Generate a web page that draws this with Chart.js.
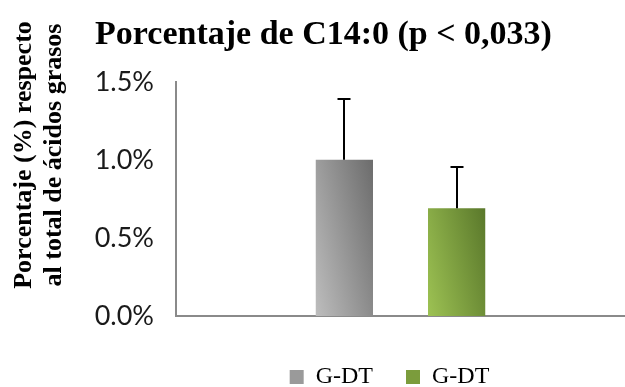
<!DOCTYPE html>
<html lang="es">
  <head>
    <meta charset="UTF-8" />
    <title>Porcentaje de C14:0</title>
    <script src="https://cdn.jsdelivr.net/npm/chart.js"></script>
    <style>
      html, body { margin: 0; padding: 0; background: #fff; }
      #wrap { width: 625px; height: 387px; }
    </style>
  </head>
  <body>
    <div id="wrap"><canvas id="c14Chart"></canvas></div>

    <script>
      // slots on the x axis (bars sit in the two middle ones)
      const slots = ["", "", "", ""];
      const seriesLabels = ["G-DT", "G-DT"];
      const seriesSlot = [1, 2];
      const seriesValues = [1.0, 0.69];   // %
      const seriesErrors = [0.39, 0.265]; // % (upper error only)
      const yTicks = [0, 0.5, 1.0, 1.5];

      const gradStops = [
        ["#bdbdbd", "#6c6c6c"], // gray: light bottom-left -> dark top-right
        ["#9dc253", "#5a782b"], // green
      ];
      const legendFill = ["#9a9a9a", "#7b9c3c"];

      const serif = "'Liberation Serif', 'DejaVu Serif', serif";
      const barPct = 0.51;

      function barGradient(ctx) {
        const chart = ctx.chart;
        const ds = ctx.datasetIndex;
        if (!chart.chartArea || ctx.type !== "data") return legendFill[ds];
        const xs = chart.scales.x;
        const w = (xs.width / slots.length) * barPct;
        const left = xs.getPixelForValue(ctx.dataIndex) - w / 2;
        const base = chart.scales.y.getPixelForValue(0);
        const h = base - chart.scales.y.getPixelForValue(seriesValues[ds]);
        // mostly left->right shading with a little bottom->top
        const ux = 0.975, uy = -0.22;
        const L = w * ux + h * -uy;
        const g = chart.ctx.createLinearGradient(left, base, left + L * ux, base + L * uy);
        g.addColorStop(0, gradStops[ds][0]);
        g.addColorStop(1, gradStops[ds][1]);
        return g;
      }

      // rotated two-line y title, drawn left of the tick labels
      const yTitlePlugin = {
        id: "yTitle",
        beforeDraw(chart) {
          // nudge the legend a little left, like the original
          chart.legend.left -= 11;
          chart.legend.right -= 11;
        },
        afterDraw(chart) {
          chart.legend.left += 11;
          chart.legend.right += 11;
          const c = chart.ctx;
          c.save();
          c.font = "bold 26px " + serif;
          c.fillStyle = "#000";
          c.textAlign = "center";
          c.textBaseline = "middle";
          c.translate(0, 155);
          c.rotate(-Math.PI / 2);
          c.fillText("Porcentaje (%) respecto", 0, 24);
          c.fillText("al total de ácidos grasos", 0, 54);
          c.restore();
        },
      };

      // upward error bars
      const errorBarPlugin = {
        id: "errorBars",
        afterDatasetsDraw(chart) {
          const c = chart.ctx;
          const y = chart.scales.y;
          c.save();
          c.strokeStyle = "#000";
          c.lineWidth = 2;
          seriesValues.forEach((v, i) => {
            const bar = chart.getDatasetMeta(i).data[seriesSlot[i]];
            if (!bar) return;
            const x = Math.round(bar.x);
            const top = y.getPixelForValue(v);
            const hi = y.getPixelForValue(v + seriesErrors[i]);
            c.beginPath();
            c.moveTo(x, top);
            c.lineTo(x, hi);
            c.moveTo(x - 6.5, hi);
            c.lineTo(x + 6.5, hi);
            c.stroke();
          });
          c.restore();
        },
      };

      const datasets = seriesLabels.map((label, i) => ({
        label: label,
        data: slots.map((_, k) => (k === seriesSlot[i] ? seriesValues[i] : null)),
        backgroundColor: barGradient,
        borderWidth: 0,
        grouped: false,
        barPercentage: barPct,
        categoryPercentage: 1.0,
      }));

      new Chart(document.getElementById("c14Chart"), {
        type: "bar",
        data: { labels: slots, datasets: datasets },
        options: {
          responsive: true,
          maintainAspectRatio: false,
          animation: false,
          layout: { padding: { left: 22, right: 0, top: 10, bottom: -12 } },
          scales: {
            x: {
              grid: { display: false, drawTicks: false },
              border: { color: "#8a8a8a", width: 2 },
              ticks: { display: false },
              afterFit: (axis) => {
                axis.height += 16;
              },
            },
            y: {
              min: 0,
              max: 1.5,
              afterBuildTicks: (axis) => {
                axis.ticks = yTicks.map((v) => ({ value: v }));
              },
              afterFit: (axis) => {
                axis.width = 154;
              },
              grid: { display: false, drawTicks: false },
              border: { color: "#8a8a8a", width: 2 },
              ticks: {
                padding: 22,
                color: "#1a1a1a",
                font: { family: "Lato, 'Liberation Sans', sans-serif", size: 27 },
                callback: (v) => Number(v).toFixed(1) + "%",
              },
            },
          },
          plugins: {
            title: {
              display: true,
              text: "Porcentaje de C14:0 (p < 0,033)",
              color: "#000",
              font: { family: serif, size: 34, weight: "bold" },
              padding: { top: 5, bottom: 26 },
            },
            legend: {
              position: "bottom",
              fullSize: false,
              labels: {
                color: "#000",
                boxWidth: 14,
                boxHeight: 14,
                padding: 33,
                font: { family: serif, size: 24 },
                generateLabels: (chart) =>
                  seriesLabels.map((l, i) => ({
                    text: l,
                    fillStyle: legendFill[i],
                    strokeStyle: legendFill[i],
                    lineWidth: 0,
                    datasetIndex: i,
                    hidden: false,
                  })),
              },
            },
            tooltip: { enabled: false },
          },
        },
        plugins: [yTitlePlugin, errorBarPlugin],
      });
    </script>
  </body>
</html>
